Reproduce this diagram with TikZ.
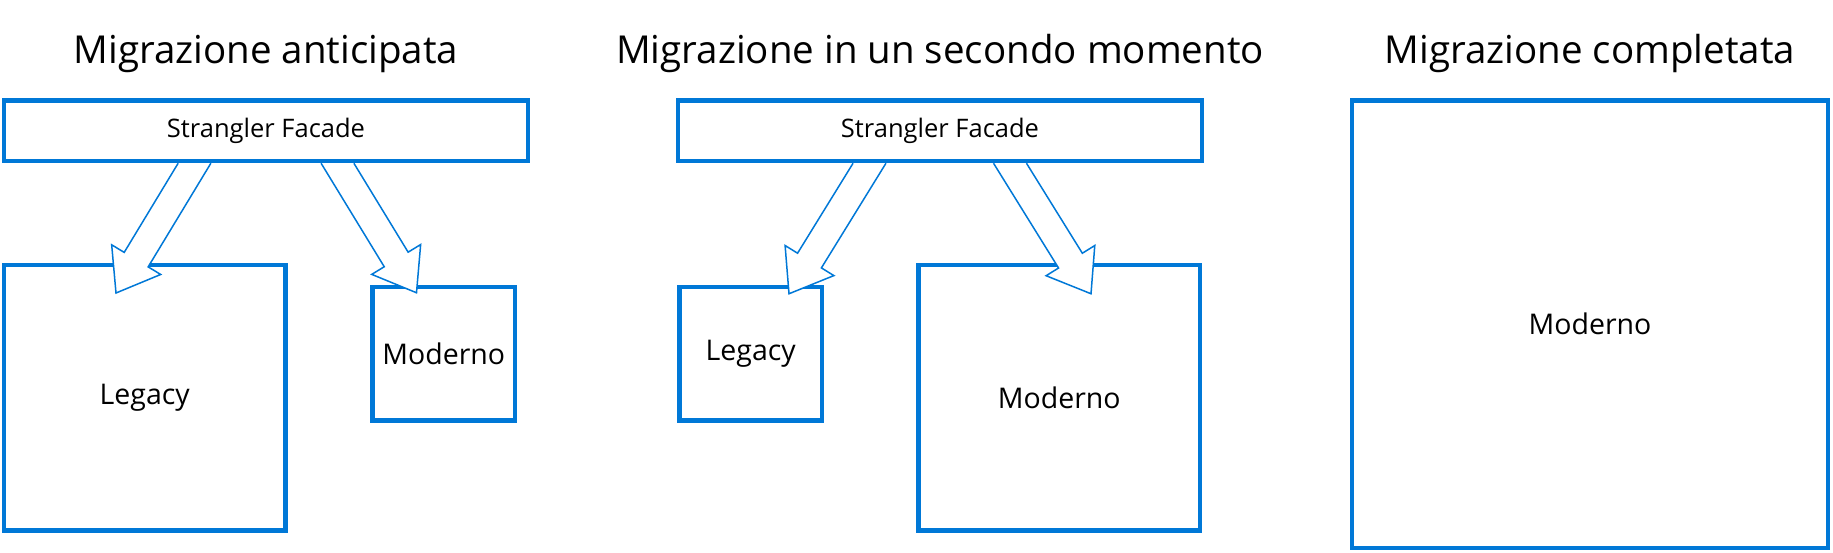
\documentclass[tikz,border=0pt]{standalone}
\usepackage{fontspec}
\setmainfont{Open Sans}
\usetikzlibrary{positioning,calc}
\definecolor{msblue}{RGB}{0,120,215}
\tikzset{%
    % Specifications for style of nodes:
    base/.style = {
        rectangle, draw=msblue, line width=4.5pt,
        fill=white, inner sep=0pt, align=center,
        font=\fontsize{28.5}{34}\selectfont
    },
    facade/.style = {base, minimum width=524pt, minimum height=60.5pt,
        font=\fontsize{25.5}{30}\selectfont},
    bigbox/.style = {base, minimum width=281.5pt, minimum height=265.5pt},
    smallbox/.style = {base, minimum width=142.5pt, minimum height=133.5pt},
    hugebox/.style = {base, minimum width=476pt, minimum height=447.5pt},
    title/.style = {inner sep=0pt, font=\fontsize{38.5}{46}\selectfont},
    % hollow block arrow, tail cut level with its start point
    blockarrow/.style = {
        draw=msblue, line width=1.5pt, fill=white,
        to path={
            let \p1 = (\tikztostart), \p2 = (\tikztotarget),
                \n1 = {atan2(\y2-\y1,\x2-\x1)},
                \n2 = {veclen(\x2-\x1,\y2-\y1)},
                \n3 = {14*cos(\n1)/sin(\n1)}
            in
            ([shift={(\p1)},rotate=\n1]\n3,14)
            -- ([shift={(\p1)},rotate=\n1]\n2-39,14)
            -- ([shift={(\p1)},rotate=\n1]\n2-39,28.65)
            -- ([shift={(\p1)},rotate=\n1]\n2,0)
            -- ([shift={(\p1)},rotate=\n1]\n2-39,-28.65)
            -- ([shift={(\p1)},rotate=\n1]\n2-39,-14)
            -- ([shift={(\p1)},rotate=\n1]-\n3,-14)
        }
    }
}

\begin{document}
\begin{tikzpicture}[x=1pt, y=-1pt]
\useasboundingbox (0,0) rectangle (1833,552);
% Specification of nodes (position, etc.)
\node (fac1)  [facade] at (266,130.75) {Strangler Facade};
\node (fac2)  [facade, right=145.5pt of fac1] {Strangler Facade};
\node (mod3)  [hugebox, right=145.5pt of fac2.north east, anchor=north west] {Moderno};
\node (leg1)  [bigbox, below=99.5pt of fac1.south west, anchor=north west] {Legacy};
\node (mod1)  [smallbox, below=121.5pt of fac1.south east, anchor=north east, xshift=-13pt] {Moderno};
\node (leg2)  [smallbox, below=121.5pt of fac2.south west, anchor=north west, xshift=1.5pt] {Legacy};
\node (mod2)  [bigbox, below=99.5pt of fac2.south east, anchor=north east, xshift=-2pt] {Moderno};
\node (tit1)  [title, above=35.25pt of fac1.north, anchor=base] {Migrazione anticipata};
\node (tit2)  [title, above=35.25pt of fac2.north, anchor=base] {Migrazione in un secondo momento};
\node (tit3)  [title, above=35.25pt of mod3.north, anchor=base] {Migrazione completata};
% arrow tips
\coordinate (tip1) at ([xshift=-150pt, yshift=-129.75pt]fac1.south);
\coordinate (tip2) at ([xshift=150.5pt, yshift=-129.5pt]fac1.south);
\coordinate (tip3) at ([xshift=-151pt, yshift=-130.5pt]fac2.south);
\coordinate (tip4) at ([xshift=151pt, yshift=-130.5pt]fac2.south);
% Specification of paths
\path[blockarrow] ([xshift=-71.5pt]fac1.south) to (tip1);
\path[blockarrow] ([xshift=71.5pt]fac1.south) to (tip2);
\path[blockarrow] ([xshift=-70.5pt]fac2.south) to (tip3);
\path[blockarrow] ([xshift=70pt]fac2.south) to (tip4);
\end{tikzpicture}
\end{document}
